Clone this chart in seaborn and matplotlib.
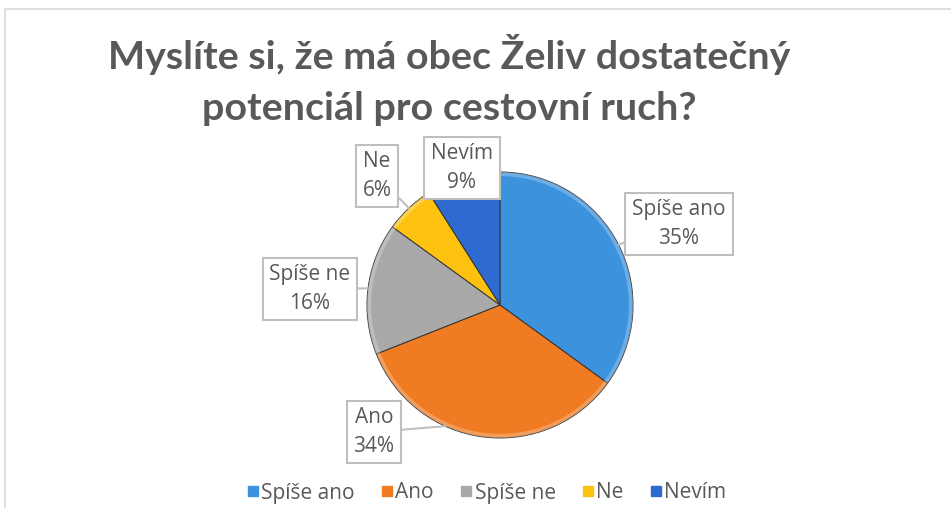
import matplotlib
matplotlib.use('Agg')
import matplotlib.pyplot as plt
from matplotlib.lines import Line2D
import numpy as np
import seaborn as sns

# ── data ─────────────────────────────────────────────
categories = ['Spíše ano', 'Ano', 'Spíše ne', 'Ne', 'Nevím']
shares = [35, 34, 16, 6, 9]
title = 'Myslíte si, že má obec Želiv dostatečný\npotenciál pro cestovní ruch?'

colors = ['#3d92dd', '#f07b22', '#a9a9a9', '#fdc20f', '#2f6ad0']
# label box centres in pixel space (x, y from top) + where along the slice the callout points
label_pos = [(679, 224), (374, 432), (310, 289), (377, 176), (462, 168)]
point_frac = [0.5, 0.36, 0.5, 0.5, 0.5]

sns.set_theme(style='white')
plt.rcParams['font.family'] = ['Open Sans', 'DejaVu Sans']
grey = '#595959'

W, H = 951, 508
fig = plt.figure(figsize=(W / 100, H / 100), dpi=100)
ax = fig.add_axes([0, 0, 1, 1])

cx, cy, r = 500, H - 305, 133
wedges, _ = ax.pie(shares, colors=colors, startangle=90, counterclock=False,
                   center=(cx, cy), radius=r, frame=True,
                   wedgeprops=dict(edgecolor='#333333', linewidth=0.7))
ax.set_xlim(0, W)
ax.set_ylim(0, H)
ax.set_aspect('equal')
ax.axis('off')

# soft rim highlight like the Excel bevel
for w in wedges:
    t = np.radians(np.linspace(w.theta1, w.theta2, 60))
    ax.plot(cx + (r - 2) * np.cos(t), cy + (r - 2) * np.sin(t),
            color='white', alpha=0.25, lw=3, solid_capstyle='butt')

# data labels with callout lines
for w, cat, val, (lx, ly), f in zip(wedges, categories, shares, label_pos, point_frac):
    ang = np.radians(w.theta1 + f * (w.theta2 - w.theta1))
    px, py = cx + r * np.cos(ang), cy + r * np.sin(ang)
    ax.annotate(f'{cat}\n{val}%', xy=(px, py), xytext=(lx, H - ly),
                ha='center', va='center', fontsize=15, color=grey,
                linespacing=1.45,
                bbox=dict(boxstyle='square,pad=0.33', fc='white',
                          ec='#bfbfbf', lw=1.5),
                arrowprops=dict(arrowstyle='-', color='#bfbfbf', lw=1.5,
                                shrinkA=0, shrinkB=0))

fig.text(449 / W, 1 - 80 / H, title, ha='center', va='center',
         fontsize=28.4, fontweight='bold', color=grey, linespacing=1.52,
         family=['Lato', 'DejaVu Sans'])

# chart border
fig.add_artist(Line2D([5 / W, 5 / W, 1], [0, 1 - 9 / H, 1 - 9 / H],
                      transform=fig.transFigure, color='#d9d9d9', lw=1.2))

handles = [Line2D([], [], marker='s', ls='', markersize=7.5,
                  markerfacecolor=c, markeredgecolor=c) for c in colors]
fig.legend(handles, categories, loc='center', ncol=5,
           bbox_to_anchor=(486 / W, 1 - 493 / H), frameon=False,
           fontsize=15, labelcolor=grey, handletextpad=0.05,
           columnspacing=1.2, handlelength=0.7)

fig.savefig('out.png', dpi=100)
